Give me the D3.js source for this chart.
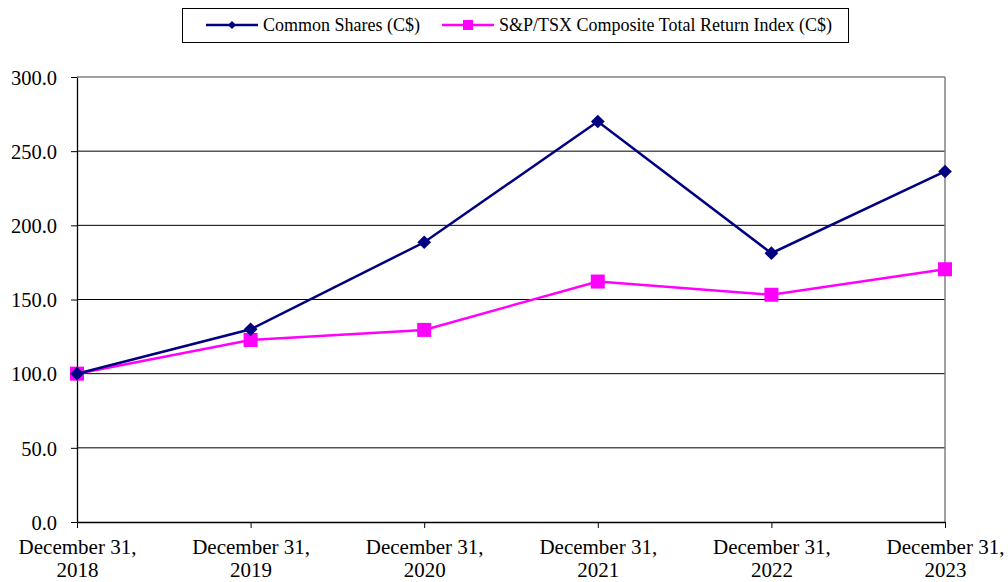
<!DOCTYPE html>
<html>
<head>
<meta charset="utf-8">
<script src="https://cdn.jsdelivr.net/npm/d3@7"></script>
<style>
  body { margin: 0; background: #fff; }
  svg, svg text { font-family: "Liberation Serif", "Times New Roman", serif; }
</style>
</head>
<body>
<div id="chart"></div>
<script>
// chart data
var categories = ["December 31,\n2018", "December 31,\n2019", "December 31,\n2020",
                  "December 31,\n2021", "December 31,\n2022", "December 31,\n2023"];
var commonShares = [100.0, 129.9, 188.6, 270.0, 181.2, 236.3];
var tsxIndex = [100.0, 122.7, 129.5, 162.1, 153.2, 170.4];
var yTicks = [0, 50, 100, 150, 200, 250, 300];
var seriesNames = ["Common Shares (C$)", "S&P/TSX Composite Total Return Index (C$)"];

var W = 1008, H = 582;
var margin = {top: 77, right: 63, bottom: 60, left: 77},
    width = W - margin.left - margin.right,
    height = H - margin.top - margin.bottom;

var svg = d3.select("#chart").append("svg")
    .attr("width", W).attr("height", H);

var g = svg.append("g")
    .attr("transform", "translate(" + margin.left + "," + margin.top + ")");

var x = d3.scalePoint().domain(d3.range(categories.length)).range([0, width]);
var y = d3.scaleLinear().domain([0, 300]).range([height, 0]);

// gridlines
g.selectAll(".grid").data(yTicks.slice(1, -1)).enter().append("line")
    .attr("x1", 0).attr("x2", width)
    .attr("y1", function (d) { return y(d); })
    .attr("y2", function (d) { return y(d); })
    .attr("stroke", "#000").attr("stroke-width", 1);

// plot border (top / right gray)
g.append("line").attr("x1", 0).attr("x2", width).attr("y1", 0).attr("y2", 0)
    .attr("stroke", "#808080").attr("stroke-width", 1.5);
g.append("line").attr("x1", width).attr("x2", width).attr("y1", 0).attr("y2", height)
    .attr("stroke", "#808080").attr("stroke-width", 1.5);

// y axis
var yAxis = g.append("g")
    .call(d3.axisLeft(y).tickValues(yTicks).tickSize(6).tickSizeOuter(0)
        .tickFormat(d3.format(".1f")));
yAxis.attr("font-family", null).attr("font-size", null);
yAxis.select(".domain").attr("stroke", "#000").attr("stroke-width", 1.3);
yAxis.selectAll("line").attr("stroke", "#000");
yAxis.selectAll("text").attr("fill", "#000").style("font-size", "20.5px")
    .attr("x", -20).attr("dy", "0.35em");

// x axis
var xAxis = g.append("g")
    .attr("transform", "translate(0," + height + ")")
    .call(d3.axisBottom(x).tickSize(6).tickSizeOuter(0).tickFormat(""));
xAxis.attr("font-family", null).attr("font-size", null);
xAxis.select(".domain").attr("stroke", "#000").attr("stroke-width", 1.3);
xAxis.selectAll("line").attr("stroke", "#000");
xAxis.selectAll(".tick").each(function (d) {
    var parts = categories[d].split("\n");
    var t = d3.select(this).append("text")
        .attr("fill", "#000").style("font-size", "21px")
        .attr("text-anchor", "middle");
    parts.forEach(function (p, i) {
        t.append("tspan").attr("x", 0).attr("y", 32 + i * 23).text(p);
    });
});

var line = d3.line()
    .x(function (d, i) { return x(i); })
    .y(function (d) { return y(d); });

// S&P/TSX series
g.append("path").datum(tsxIndex)
    .attr("fill", "none").attr("stroke", "#ff00ff").attr("stroke-width", 2.5)
    .attr("d", line);
g.selectAll(".sq").data(tsxIndex).enter().append("rect")
    .attr("x", function (d, i) { return x(i) - 7; })
    .attr("y", function (d) { return y(d) - 7; })
    .attr("width", 14).attr("height", 14)
    .attr("fill", "#ff00ff");

// Common shares series
g.append("path").datum(commonShares)
    .attr("fill", "none").attr("stroke", "#000080").attr("stroke-width", 2.5)
    .attr("d", line);
var diamond = d3.symbol().type(d3.symbolDiamond2).size(120);
g.selectAll(".dm").data(commonShares).enter().append("path")
    .attr("transform", function (d, i) { return "translate(" + x(i) + "," + y(d) + ")"; })
    .attr("d", diamond)
    .attr("fill", "#000080");

// legend
var lg = svg.append("g");
lg.append("rect").attr("x", 182.5).attr("y", 8.5).attr("width", 666).attr("height", 34)
    .attr("fill", "#fff").attr("stroke", "#000").attr("stroke-width", 1);

var items = [
    {name: seriesNames[0], color: "#000080", x0: 206, shape: "diamond"},
    {name: seriesNames[1], color: "#ff00ff", x0: 442, shape: "square"}
];
items.forEach(function (it) {
    lg.append("line").attr("x1", it.x0).attr("x2", it.x0 + 52)
        .attr("y1", 25).attr("y2", 25)
        .attr("stroke", it.color).attr("stroke-width", 2.5);
    if (it.shape === "diamond") {
        lg.append("path").attr("transform", "translate(" + (it.x0 + 26) + ",25)")
            .attr("d", d3.symbol().type(d3.symbolDiamond2).size(40)).attr("fill", it.color);
    } else {
        lg.append("rect").attr("x", it.x0 + 21).attr("y", 20).attr("width", 10).attr("height", 10)
            .attr("fill", it.color);
    }
    lg.append("text").attr("x", it.x0 + 57).attr("y", 31)
        .style("font-size", "18px").attr("fill", "#000").text(it.name);
});
</script>
</body>
</html>
